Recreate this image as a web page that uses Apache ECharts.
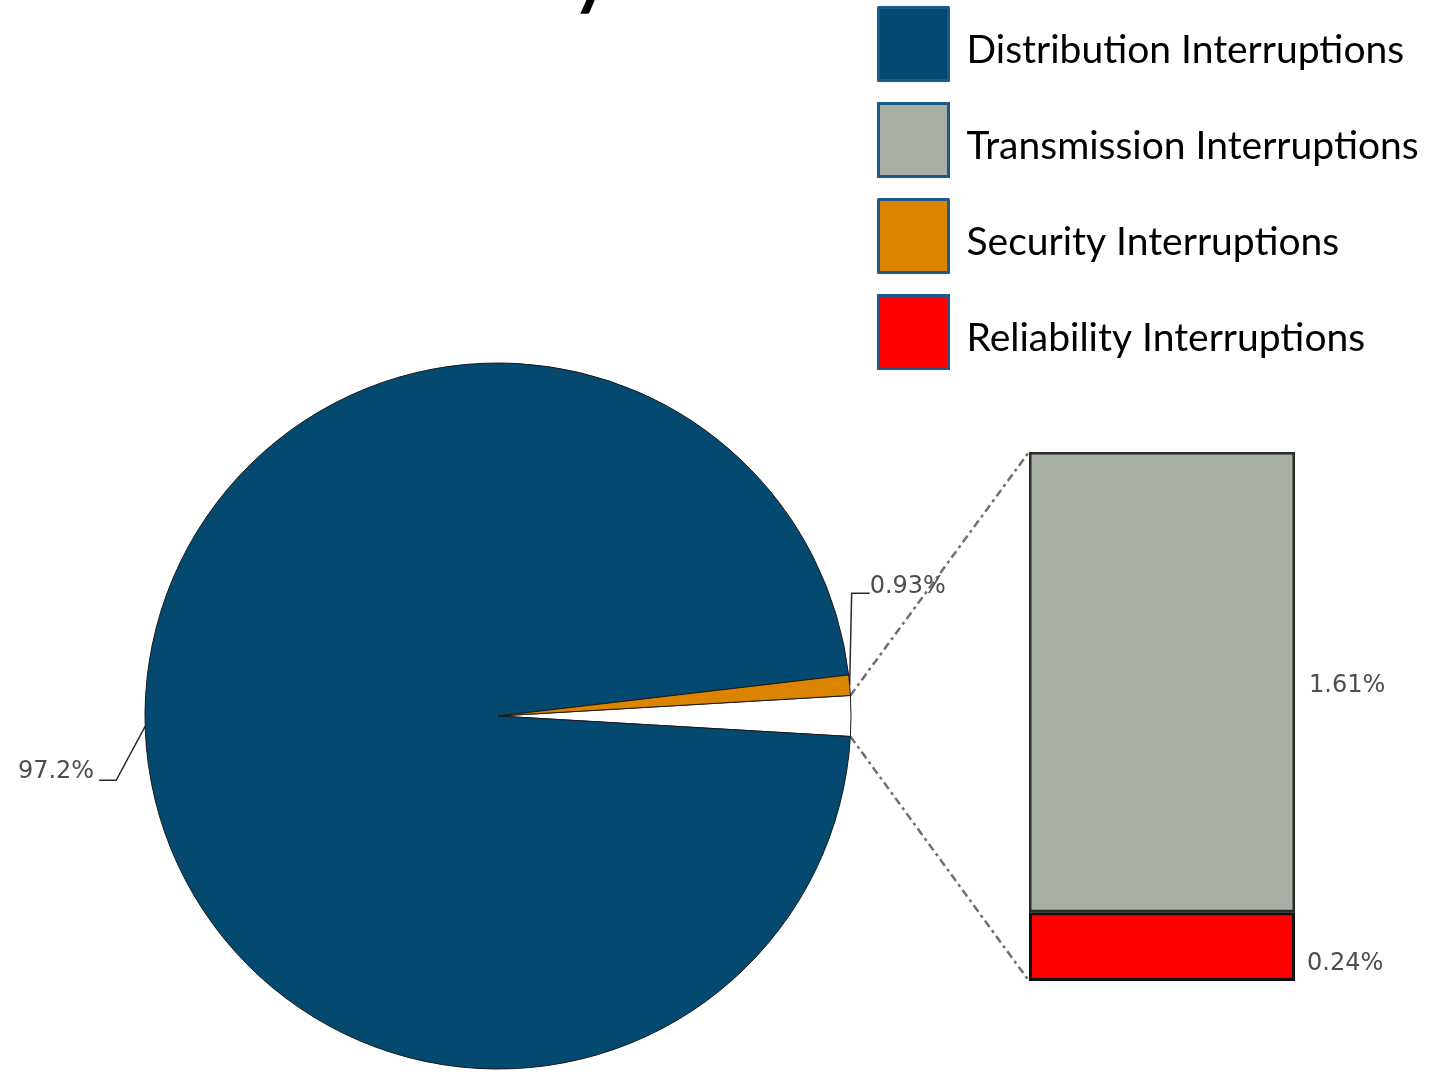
<!DOCTYPE html>
<html>
<head>
<meta charset="utf-8">
<script src="https://cdn.jsdelivr.net/npm/echarts@6/dist/echarts.min.js"></script>
<style>
  html, body { margin: 0; padding: 0; background: #ffffff; }
  #chart { width: 1444px; height: 1072px; }
</style>
</head>
<body>
<div id="chart"></div>
<script>
// Share of interruptions by cause (%)
const pieNames = ['Distribution Interruptions', 'Security Interruptions'];
const pieValues = [97.2, 0.93];
// The remaining slice is broken out into the stacked bar
const barNames = ['Transmission Interruptions', 'Reliability Interruptions'];
const barValues = [1.61, 0.24];
const legendNames = ['Distribution Interruptions', 'Transmission Interruptions', 'Security Interruptions', 'Reliability Interruptions'];

const COLORS = {
  'Distribution Interruptions': '#044a70',
  'Transmission Interruptions': '#a7afa4',
  'Security Interruptions': '#dc8300',
  'Reliability Interruptions': '#ff0000'
};

const barTotal = barValues.reduce((a, b) => a + b, 0);
const sliceValues = [barTotal].concat(pieValues);           // 'Other' slice first
const grandTotal = sliceValues.reduce((a, b) => a + b, 0);
const otherSweep = barTotal / grandTotal * 360;
const START_ANGLE = otherSweep / 2;                          // centre the broken-out slice on 3 o'clock

const PIE_CENTER = [498, 716];
const PIE_RADIUS = 353;
const GRID = { left: 1029, top: 452, width: 266, height: 529 };

function midAngle(i) {
  let a = START_ANGLE;
  for (let j = 0; j < i; j++) a -= sliceValues[j] / grandTotal * 360;
  return a - sliceValues[i] / grandTotal * 180;
}
function edgePoint(deg) {
  const r = deg * Math.PI / 180;
  return [PIE_CENTER[0] + PIE_RADIUS * Math.cos(r), PIE_CENTER[1] - PIE_RADIUS * Math.sin(r)];
}

const valueLabel = {
  fontFamily: 'DejaVu Sans',
  fontSize: 24,
  color: '#4d4d4d'
};

const chart = echarts.init(document.getElementById('chart'), null, { renderer: 'canvas' });

const pieData = [{
  name: 'Other',
  value: barTotal,
  itemStyle: { color: '#ffffff' },
  label: { show: false },
  labelLine: { show: false }
}].concat(pieNames.map((n, i) => ({
  name: n,
  value: pieValues[i],
  itemStyle: { color: COLORS[n] }
})));

const option = {
  animation: false,
  backgroundColor: '#ffffff',
  legend: {
    orient: 'vertical',
    left: 877,
    top: 6,
    padding: 0,
    itemWidth: 70,
    itemHeight: 73,
    itemGap: 20,
    icon: 'rect',
    data: legendNames,
    selectedMode: false,
    itemStyle: { borderColor: '#1d5a8c', borderWidth: 3 },
    formatter: name => '{t|' + name + '}',
    textStyle: {
      fontFamily: 'Lato',
      fontSize: 39,
      color: '#000000',
      rich: {
        t: {
          fontFamily: 'Lato',
          fontSize: 39,
          color: '#000000',
          padding: [12, 0, 0, 13]
        }
      }
    }
  },
  grid: Object.assign({ containLabel: false }, GRID),
  xAxis: { type: 'category', data: ['Other'], show: false },
  yAxis: { type: 'value', min: 0, max: barTotal, show: false },
  series: [
    {
      type: 'pie',
      center: PIE_CENTER,
      radius: PIE_RADIUS,
      startAngle: START_ANGLE,
      clockwise: true,
      avoidLabelOverlap: false,
      silent: true,
      data: pieData,
      itemStyle: { borderColor: '#1a1a1a', borderWidth: 1 },
      label: Object.assign({
        show: true,
        position: 'outside',
        formatter: p => p.value + '%'
      }, valueLabel),
      labelLine: { show: true, lineStyle: { color: '#2a2a2a', width: 1.5 } },
      labelLayout: function (params) {
        const i = params.dataIndex;
        const p0 = edgePoint(midAngle(i));
        if (i === 1) {
          const p1 = [p0[0] - 29, p0[1] + 54];
          const p2 = [p1[0] - 17, p1[1]];
          return { x: p2[0] - 5, y: p2[1] - 9, align: 'right', verticalAlign: 'middle', labelLinePoints: [p0, p1, p2] };
        }
        if (i === 2) {
          const p1 = [p0[0] + 2, p0[1] - 92];
          const p2 = [p1[0] + 18, p1[1]];
          return { x: p2[0], y: p2[1] - 6, align: 'left', verticalAlign: 'middle', labelLinePoints: [p0, p1, p2] };
        }
      }
    },
    {
      type: 'bar',
      name: barNames[1],
      stack: 'other',
      data: [barValues[1]],
      barWidth: '100%',
      z: 3,
      silent: true,
      itemStyle: { color: COLORS[barNames[1]], borderColor: '#111111', borderWidth: 3 },
      label: Object.assign({
        show: true,
        position: 'right',
        distance: 12,
        offset: [0, 17],
        formatter: p => p.value + '%'
      }, valueLabel)
    },
    {
      type: 'bar',
      name: barNames[0],
      stack: 'other',
      data: [barValues[0]],
      barWidth: '100%',
      z: 2,
      silent: true,
      itemStyle: { color: COLORS[barNames[0]], borderColor: '#2b2b2b', borderWidth: 2.5 },
      label: Object.assign({
        show: true,
        position: 'right',
        distance: 14,
        offset: [0, 4],
        formatter: p => p.value + '%'
      }, valueLabel)
    }
  ]
};

chart.setOption(option);

// Dash-dot connectors from the broken-out slice to the stacked bar
const topY = chart.convertToPixel({ yAxisIndex: 0 }, barTotal);
const bottomY = chart.convertToPixel({ yAxisIndex: 0 }, 0);
const upper = edgePoint(START_ANGLE);
const lower = edgePoint(-START_ANGLE);
const connectorStyle = { stroke: '#707070', lineWidth: 2.5, lineDash: [8, 4, 3, 4] };

chart.setOption({
  graphic: [
    {
      type: 'line',
      silent: true,
      z: 1,
      shape: { x1: upper[0], y1: upper[1], x2: GRID.left, y2: topY },
      style: connectorStyle
    },
    {
      type: 'line',
      silent: true,
      z: 1,
      shape: { x1: lower[0], y1: lower[1], x2: GRID.left, y2: bottomY },
      style: connectorStyle
    },
    {
      // tail of the heading line above the chart
      type: 'text',
      silent: true,
      left: 572,
      top: -58,
      style: { text: 'y', fontFamily: 'Lato', fontWeight: 'bold', fontSize: 72, fill: '#000000' }
    }
  ]
});
</script>
</body>
</html>
